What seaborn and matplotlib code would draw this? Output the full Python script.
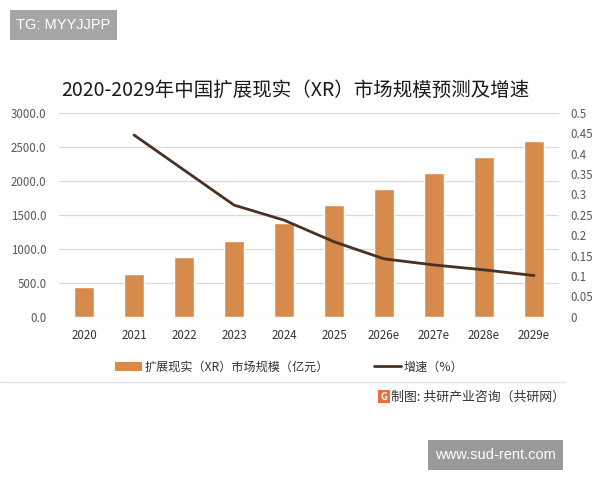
import numpy as np
import pandas as pd
import matplotlib
matplotlib.use("Agg")
import matplotlib.pyplot as plt
from matplotlib.patches import Patch, Rectangle
from matplotlib.lines import Line2D
import seaborn as sns

years = ["2020", "2021", "2022", "2023", "2024", "2025", "2026e", "2027e", "2028e", "2029e"]
market = [443, 631, 872, 1119, 1380, 1646, 1887, 2121, 2358, 2587]
growth_years = ["2021", "2022", "2023", "2024", "2025", "2026e", "2027e", "2028e", "2029e"]
growth = [0.446, 0.36, 0.274, 0.237, 0.184, 0.142, 0.127, 0.115, 0.101]
left_ticks = [0, 500, 1000, 1500, 2000, 2500, 3000]
right_ticks = [0, 0.05, 0.1, 0.15, 0.2, 0.25, 0.3, 0.35, 0.4, 0.45, 0.5]

sns.set_theme(style="white")
plt.rcParams['font.family'] = ['Noto Sans CJK SC', 'DejaVu Sans']

BAR = "#D68B4C"
LINE = "#4A3123"
TXT = "#595959"

fig = plt.figure(figsize=(6, 4.8), dpi=100)
ax = fig.add_axes([59/600, 1-316.7/480, 500/600, 203.7/480])

df = pd.DataFrame({"year": years, "market": market})
sns.barplot(data=df, x="year", y="market", order=years, color=BAR, width=0.41,
            saturation=1, ax=ax)
ax.set_ylim(0, 3000)
ax.set_xlim(-0.5, 9.5)
ax.set_yticks(left_ticks)
ax.set_yticklabels([f"{v:.1f}" for v in left_ticks], fontsize=8.3, color=TXT)
ax.tick_params(axis='x', labelsize=8.3, colors="#333333", length=0, pad=9)
ax.tick_params(axis='y', length=0, pad=9)
ax.set_xlabel("")
ax.set_ylabel("")
ax.yaxis.grid(True, color="#d9d9d9", linewidth=0.9)
ax.set_axisbelow(True)
for s in ax.spines.values():
    s.set_visible(False)

ax2 = ax.twinx()
gdf = pd.DataFrame({"x": [years.index(y) for y in growth_years], "g": growth})
sns.lineplot(data=gdf, x="x", y="g", color=LINE, linewidth=2, ax=ax2)
ax2.set_ylim(0, 0.5)
ax2.set_yticks(right_ticks)
ax2.set_yticklabels([f"{v:g}" for v in right_ticks], fontsize=8.3, color=TXT)
ax2.tick_params(axis='y', length=0, pad=8)
ax2.set_ylabel("")
ax2.set_xlabel("")
for s in ax2.spines.values():
    s.set_visible(False)
ax2.grid(False)

fig.text(295/600, 1-90/480, "2020-2029年中国扩展现实（XR）市场规模预测及增速",
         ha="center", va="center", fontsize=14, color="#1a1a1a")

handles = [Patch(facecolor=BAR, edgecolor='none'),
           Line2D([0], [0], color=LINE, linewidth=2)]
fig.legend(handles, ["扩展现实（XR）市场规模（亿元）", "增速（%）"],
           loc="center", bbox_to_anchor=(0.482, 1-367/480), ncol=2, frameon=False,
           fontsize=8.7, handlelength=2.2, handletextpad=0.2, columnspacing=3.8,
           labelcolor="#333333")

fig.add_artist(Line2D([0, 565/600], [1-382/480, 1-382/480], color="#e3e3e3", linewidth=1))
fig.add_artist(Rectangle((378/600, 1-403/480), 12/600, 13/480, facecolor="#E8703A",
                         edgecolor='none'))
fig.text(384/600, 1-396.5/480, "G", ha="center", va="center", fontsize=7, color="white",
         fontweight="bold")
fig.text(565/600, 1-397/480, "制图: 共研产业咨询（共研网）", ha="right", va="center",
         fontsize=9.3, color="#333333")

fig.add_artist(Rectangle((10/600, 1-40/480), 107/600, 30/480, facecolor="#a6a6a6",
                         edgecolor='none'))
fig.text(63/600, 1-25/480, "TG: MYYJJPP", ha="center", va="center", fontsize=10.5,
         color="white", family=["Liberation Sans", "DejaVu Sans"])
fig.add_artist(Rectangle((428/600, 1-470/480), 135/600, 30/480, facecolor="#9a9a9a",
                         edgecolor='none'))
fig.text(495/600, 1-455/480, "www.sud-rent.com", ha="center", va="center", fontsize=10.5,
         color="white", family=["Liberation Sans", "DejaVu Sans"])

fig.savefig("out.png", dpi=100)
